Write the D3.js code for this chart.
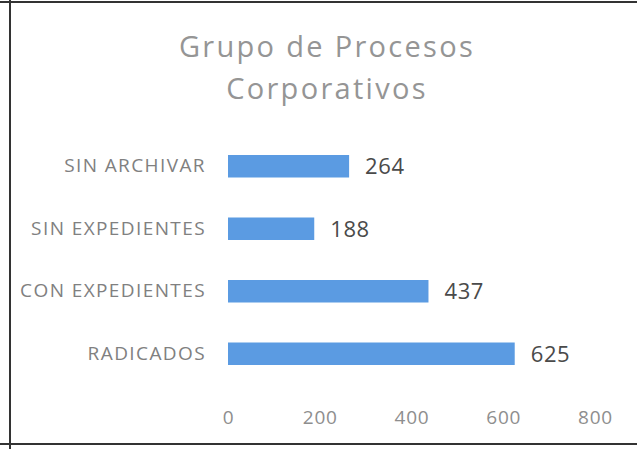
<!DOCTYPE html>
<html>
<head>
<meta charset="utf-8">
<script src="https://cdn.jsdelivr.net/npm/d3@7"></script>
<style>
  body { margin: 0; background: #fff; }
  svg { display: block; font-family: "Open Sans", sans-serif; }
</style>
</head>
<body>
<svg id="chart" width="637" height="449"></svg>
<script>
const categories = ['SIN ARCHIVAR', 'SIN EXPEDIENTES', 'CON EXPEDIENTES', 'RADICADOS'];
const values = [264, 188, 437, 625];
const ticks = [0, 200, 400, 600, 800];
const titleLines = ['Grupo de Procesos', 'Corporativos'];

const svg = d3.select('#chart');

// frame of the scanned picture
svg.append('line').attr('x1', 0).attr('x2', 637).attr('y1', 2).attr('y2', 2)
  .attr('stroke', '#333').attr('stroke-width', 2);
svg.append('line').attr('x1', 10).attr('x2', 10).attr('y1', 0).attr('y2', 449)
  .attr('stroke', '#333').attr('stroke-width', 2);
svg.append('line').attr('x1', 0).attr('x2', 637).attr('y1', 444).attr('y2', 444)
  .attr('stroke', '#333').attr('stroke-width', 2);

const x = d3.scaleLinear().domain([0, 800]).range([228, 595]);
const y = d3.scaleBand().domain(categories).range([135, 385]).paddingInner(0.64).paddingOuter(0.32);

// title
svg.selectAll('.title').data(titleLines).enter().append('text')
  .attr('x', 327)
  .attr('y', (d, i) => 57 + i * 42)
  .attr('text-anchor', 'middle')
  .attr('fill', '#959595')
  .attr('font-size', 29)
  .attr('letter-spacing', 2.3)
  .text(d => d);

// bars
svg.selectAll('.bar').data(values).enter().append('rect')
  .attr('x', x(0))
  .attr('y', (d, i) => y(categories[i]))
  .attr('width', d => x(d) - x(0))
  .attr('height', y.bandwidth())
  .attr('fill', '#5b9be2');

// value labels
svg.selectAll('.val').data(values).enter().append('text')
  .attr('x', d => x(d) + 16)
  .attr('y', (d, i) => y(categories[i]) + y.bandwidth() / 2)
  .attr('dy', '0.36em')
  .attr('fill', '#4a4a4a')
  .attr('font-size', 22)
  .attr('letter-spacing', 0.6)
  .text(d => d);

// category axis
const yAxis = svg.append('g').attr('transform', 'translate(206,0)')
  .call(d3.axisLeft(y).tickSize(0).tickPadding(0));
yAxis.select('.domain').remove();
yAxis.selectAll('text').attr('fill', '#808080').attr('font-size', 19)
  .attr('letter-spacing', 1.4)
  .attr('font-family', '"Open Sans", sans-serif');

// value axis
const xAxis = svg.append('g').attr('transform', 'translate(0,410)')
  .call(d3.axisBottom(x).tickValues(ticks).tickSize(0).tickPadding(0));
xAxis.select('.domain').remove();
xAxis.selectAll('text').attr('fill', '#8e8e8e').attr('font-size', 19)
  .attr('letter-spacing', 0.8)
  .attr('font-family', '"Open Sans", sans-serif');
</script>
</body>
</html>
